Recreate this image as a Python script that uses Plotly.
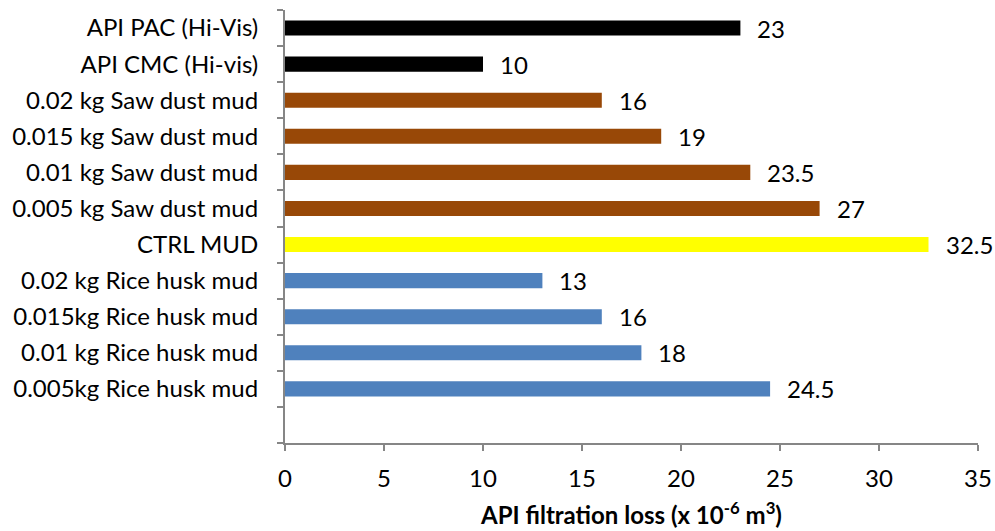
import plotly.graph_objects as go

# Mud samples, listed bottom to top; the first slot is an empty spacer category
categories = [" ",
              "0.005kg Rice husk mud", "0.01 kg Rice husk mud", "0.015kg Rice husk mud",
              "0.02 kg Rice husk mud", "CTRL MUD",
              "0.005 kg Saw dust mud", "0.01 kg Saw dust mud", "0.015 kg Saw dust mud",
              "0.02 kg Saw dust mud", "API CMC (Hi-vis)", "API PAC (Hi-Vis)"]
values = [None, 24.5, 18, 16, 13, 32.5, 27, 23.5, 19, 16, 10, 23]
colors = ["#4F81BD", "#4F81BD", "#4F81BD", "#4F81BD", "#4F81BD", "#FFFF00",
          "#984807", "#984807", "#984807", "#984807", "#000000", "#000000"]
x_ticks = [0, 5, 10, 15, 20, 25, 30, 35]

FONT = "Lato, Calibri, sans-serif"
FS = 24
AXIS_GRAY = "#868686"

fig = go.Figure(go.Bar(
    y=categories, x=values, orientation="h",
    marker=dict(color=colors, line=dict(width=0)),
    hoverinfo="x+y",
))

# value labels to the right of each bar
for cat, val in zip(categories, values):
    if val is None:
        continue
    fig.add_annotation(x=val, y=cat, text=f"{val:g}", showarrow=False,
                       xanchor="left", yanchor="middle", xshift=15, yshift=0,
                       font=dict(family=FONT, size=FS, color="#000000"))

fig.update_layout(
    width=995, height=531,
    margin=dict(l=285, r=17, t=10, b=88),
    paper_bgcolor="white", plot_bgcolor="white",
    bargap=0.58, showlegend=False,
    font=dict(family=FONT, size=FS, color="#000000"),
)
fig.update_xaxes(
    range=[0, 35], tickvals=x_ticks, showgrid=False, zeroline=False,
    automargin=False,
    showline=True, linecolor=AXIS_GRAY, linewidth=2,
    ticks="outside", ticklen=6, tickwidth=2, tickcolor=AXIS_GRAY,
    ticklabelstandoff=7,
    title=dict(text="<b>API filtration loss (x 10<sup>-6</sup> m<sup>3</sup>)</b>",
               font=dict(family=FONT, size=FS), standoff=16),
)
fig.update_yaxes(
    type="category", categoryorder="array", categoryarray=categories,
    range=[-0.5, len(categories) - 0.5], showgrid=False, zeroline=False,
    automargin=False,
    showline=True, linecolor=AXIS_GRAY, linewidth=2,
    ticks="outside", tickson="boundaries", ticklen=6, tickwidth=2, tickcolor=AXIS_GRAY,
    ticklabelstandoff=20,
)

fig.write_html("out.html")
